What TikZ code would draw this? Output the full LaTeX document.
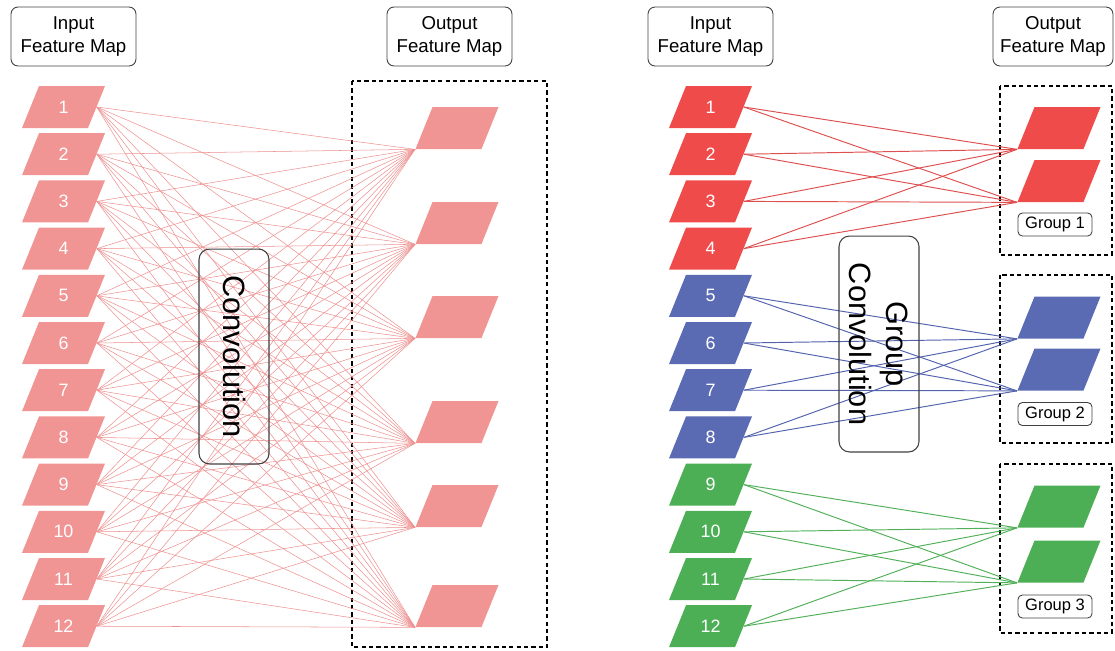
\documentclass[tikz,border=0pt]{standalone}
\usepackage{fontspec}
\setmainfont{Liberation Sans}

\definecolor{pinkmap}{HTML}{F19594}
\definecolor{pinkline}{HTML}{EE9090}
\definecolor{redmap}{HTML}{F04B4B}
\definecolor{redline}{HTML}{DE5050}
\definecolor{bluemap}{HTML}{5B6BB3}
\definecolor{blueline}{HTML}{5363AE}
\definecolor{greenmap}{HTML}{4DAF55}
\definecolor{greenline}{HTML}{52B05A}
\definecolor{boxgray}{HTML}{404040}

\begin{document}
\begin{tikzpicture}[x=0.02cm, y=-0.02cm,
  fmap/.style={rectangle, minimum width=1.32cm, minimum height=0.84cm,
    inner sep=0pt, draw=none, xslant=0.405, transform shape},
  fnum/.style={text=white, font=\fontsize{10.2}{12}\selectfont},
  titlebox/.style={draw=boxgray, rounded corners=4pt, line width=0.5pt,
    minimum width=2.5cm, minimum height=1.18cm, align=center,
    font=\fontsize{10.6}{13}\selectfont},
  groupbox/.style={draw=boxgray, rounded corners=2.5pt, line width=0.5pt,
    minimum width=1.48cm, minimum height=0.46cm, inner sep=0pt,
    font=\fontsize{9.4}{11}\selectfont},
  opbox/.style={draw=boxgray, rounded corners=6pt, line width=0.6pt,
    align=center, font=\fontsize{17.5}{21}\selectfont},
  dashbox/.style={draw=black, line width=0.9pt, dash pattern=on 2.4pt off 1.8pt},
  convline/.style={pinkline, line width=0.3pt},
  gline/.style={line width=0.55pt}]
  \useasboundingbox (0,0) rectangle (1115,650);

  % Titles
  \node[titlebox] (inA)  at (73.5,36.5)  {Input\\Feature Map};
  \node[titlebox] (outA) at (449.5,36.5) {Output\\Feature Map};
  \node[titlebox] (inB)  at (710.5,36.5) {Input\\Feature Map};
  \node[titlebox, minimum width=2.4cm] (outB) at (1053,36.5) {Output\\Feature Map};

  % ===== Left: ordinary convolution =====
  \draw[dashbox] (352,81) rectangle (547,647);
  \foreach \i in {1,...,12}{
    \node[fmap, fill=pinkmap] (a\i) at (63.5,{107+47.2*(\i-1)}) {};
    \node[fnum] (a\i n) at (a\i) {\i};
  }
  \foreach \j/\y in {1/128,2/223,3/317,4/422,5/506,6/606}{
    \node[fmap, fill=pinkmap] (ao\j) at (457,\y) {};
  }
  % every input to every output
  \foreach \i in {1,...,12}{
    \foreach \j in {1,...,6}{
      \draw[convline] (a\i.east) -- (ao\j.south west);
    }}
  \node[opbox, minimum width=4.3cm, minimum height=1.4cm, rotate=-90]
       (conv) at (234,356.5) {Convolution};

  % ===== Right: group convolution =====
  \foreach \g/\ya/\yb/\yl/\top/\bot/\col in
      {1/128/181/224.5/86/255/red, 2/317.5/369.5/414/275/443/blue,
       3/506.5/561.5/606.5/464/633/green}{
    \draw[dashbox] (1000,\top) rectangle (1112,\bot);
    \node[fmap, fill=\col map] (g\g o1) at (1059,\ya) {};
    \node[fmap, fill=\col map] (g\g o2) at (1059,\yb) {};
    \node[groupbox] (lab\g) at (1055,\yl) {Group \g};
  }
  \foreach \i/\g/\col in {1/1/red,2/1/red,3/1/red,4/1/red,
                          5/2/blue,6/2/blue,7/2/blue,8/2/blue,
                          9/3/green,10/3/green,11/3/green,12/3/green}{
    \node[fmap, fill=\col map] (b\i) at (710.5,{107+47.2*(\i-1)}) {};
    \node[fnum] (b\i n) at (b\i) {\i};
    \draw[gline, \col line] (b\i.east) -- (g\g o1.south west);
    \draw[gline, \col line] (b\i.east) -- (g\g o2.south west);
  }
  \node[opbox, minimum width=4.32cm, minimum height=1.6cm, rotate=-90]
       (gconv) at (879,344) {Group\\Convolution};
\end{tikzpicture}
\end{document}
